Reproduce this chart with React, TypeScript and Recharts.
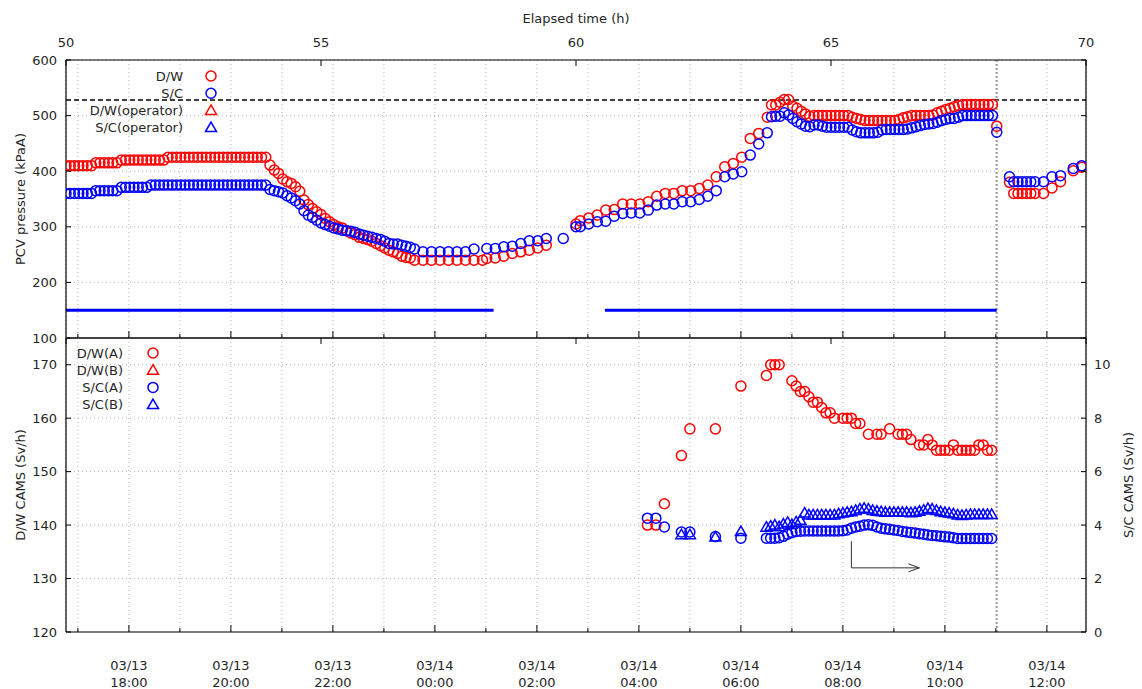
import React from 'react'
import {
  ComposedChart,
  Scatter,
  XAxis,
  YAxis,
  CartesianGrid,
  ReferenceLine,
  ReferenceDot,
  Legend,
} from 'recharts'

const _ = null

// time base: hours elapsed since the earthquake (03/11 14:46)
const QUAKE_DAY = 11
const QUAKE_CLOCK = 14 + 46 / 60

function toElapsed(stamp: string) {
  const [md, hm] = stamp.split(' ')
  const day = Number(md.split('/')[1])
  const [h, m] = hm.split(':').map(Number)
  return (day - QUAKE_DAY) * 24 + h + m / 60 - QUAKE_CLOCK
}

// axis ticks
const elapsedTicks = [50, 55, 60, 65, 70]
const clockTicks = [
  '03/13 17:00', '03/13 18:00', '03/13 19:00', '03/13 20:00', '03/13 21:00',
  '03/13 22:00', '03/13 23:00', '03/14 00:00', '03/14 01:00', '03/14 02:00',
  '03/14 03:00', '03/14 04:00', '03/14 05:00', '03/14 06:00', '03/14 07:00',
  '03/14 08:00', '03/14 09:00', '03/14 10:00', '03/14 11:00', '03/14 12:00',
]
const pressureTicks = [100, 200, 300, 400, 500, 600]
const dwCamsTicks = [120, 130, 140, 150, 160, 170]
const scCamsTicks = [0, 2, 4, 6, 8, 10]
const dwCamsDomain = [120, 175]
const scCamsDomain = [0, 11]

// PCV pressure (kPaA), one slot every 5 min starting at 50 h elapsed; one row = 1 hour
const SLOT_MIN = 5
const PRESSURE_START = 50
const dwPressure = [
  410, 410, 410, 410, 410, 410, 410, 415, 415, 415, 415, 415,
  415, 420, 420, 420, 420, 420, 420, 420, 420, 420, 420, 420,
  425, 425, 425, 425, 425, 425, 425, 425, 425, 425, 425, 425,
  425, 425, 425, 425, 425, 425, 425, 425, 425, 425, 425, 425,
  411, 402, 396, 386, 381, 378, 372, 364, 348, 340, 333, 327,
  322, 315, 309, 304, 300, 298, 293, 289, 286, 281, 279, 277,
  274, 270, 266, 262, 258, 255, 252, 247, 245, 244, 240, _,
  240, _, 240, _, 240, _, 240, _, 240, _, 240, _,
  240, _, 240, 243, _, 244, _, 247, _, 252, _, 255,
  _, 258, _, 262, _, 267, _, _, _, _, _, _,
  305, 311, _, 316, _, 321, _, 330, _, 331, _, 341,
  _, 341, _, 341, _, 345, _, 355, _, 360, _, 360,
  _, 365, _, 365, _, 369, _, 375, _, 390, _, 408,
  _, 414, _, 425, _, 459, _, 468, _, 497, 519, 519,
  524, 529, 529, 517, 513, 508, 503, 499, 500, 500, 500, 500,
  500, 500, 500, 500, 500, 497, 495, 493, 491, 491, 491, 491,
  491, 491, 491, 491, 493, 496, 498, 500, 500, 500, 500, 500,
  501, 505, 508, 511, 513, 516, 518, 520, 520, 520, 520, 520,
  520, 520, 520, 481, _, _, 380, 360, 360, 360, 360, 360,
  360, _, 360, _, 370, _, 381, _, _, 401, _, 407,
]
const scPressure = [
  360, 360, 360, 360, 360, 360, 360, 365, 365, 365, 365, 365,
  365, 371, 371, 371, 371, 371, 371, 371, 375, 375, 375, 375,
  375, 375, 375, 375, 375, 375, 375, 375, 375, 375, 375, 375,
  375, 375, 375, 375, 375, 375, 375, 375, 375, 375, 375, 375,
  367, 365, 363, 361, 356, 352, 347, 341, 329, 321, 317, 312,
  307, 304, 301, 298, 296, 294, 293, 292, 290, 287, 285, 283,
  281, 279, 277, 274, 270, 269, 269, 267, 265, 263, 260, _,
  255, _, 255, _, 255, _, 255, _, 255, _, 255, _,
  260, _, _, 261, _, 261, _, 264, _, 265, _, 270,
  _, 275, _, 275, _, 279, _, _, _, 279, _, _,
  300, 300, _, 305, _, 309, _, 310, _, 319, _, 324,
  _, 325, _, 325, _, 330, _, 339, _, 341, _, 341,
  _, 345, _, 345, _, 349, _, 355, _, 365, _, 390,
  _, 395, _, 399, _, 429, _, 449, _, 469, 498, 499,
  499, 505, 501, 495, 489, 485, 481, 480, 483, 483, 481, 479,
  479, 479, 479, 479, 479, 474, 471, 469, 469, 469, 469, 470,
  474, 475, 475, 475, 475, 475, 476, 478, 480, 482, 484, 485,
  486, 488, 491, 493, 495, 495, 497, 500, 500, 500, 500, 500,
  500, 500, 500, 470, _, _, 390, 381, 381, 381, 381, 381,
  381, _, 381, _, 390, _, 392, _, _, 405, _, 410,
]
const dwOperator: (number | null)[] = []
const scOperator: (number | null)[] = []

const designPressure = 528
const scVentLevel = 150
const scVentPeriods = [
  ['03/13 16:46', '03/14 01:09'],
  ['03/14 03:20', '03/14 11:01'],
]
const explosionTime = '03/14 11:01'

// CAMS (Sv/h), one slot every 5 min from 03/14 04:10; one row = 1 hour
const CAMS_START = '03/14 04:10'
const dwCamsA = [
  140, _, 140, _, 144, _, _, _, 153, _, 158, _,
  _, _, _, _, 158, _, _, _, _, _, 166, _,
  _, _, _, _, 168, 170, 170, 170, _, _, 167, 166,
  165, 165, 164, 163, 163, 162, 161, 161, 160, _, 160, 160,
  160, 159, 159, _, 157, _, 157, 157, _, 158, _, 157,
  157, 157, 156, _, 155, 155, 156, 155, 154, 154, 154, 154,
  155, 154, 154, 154, 154, 154, 155, 155, 154, 154,
]
const dwCamsB: (number | null)[] = []
const scCamsA = [
  4.26, _, 4.26, _, 3.93, _, _, _, 3.74, _, 3.74, _,
  _, _, _, _, 3.57, _, _, _, _, _, 3.51, _,
  _, _, _, _, 3.51, 3.51, 3.51, 3.53, 3.58, 3.66, 3.72, 3.76,
  3.77, 3.78, 3.78, 3.78, 3.78, 3.78, 3.78, 3.78, 3.78, 3.78, 3.79, 3.82,
  3.88, 3.93, 3.96, 4.0, 4.01, 3.99, 3.93, 3.88, 3.86, 3.84, 3.82, 3.8,
  3.76, 3.74, 3.72, 3.7, 3.68, 3.66, 3.63, 3.61, 3.6, 3.58, 3.56, 3.55,
  3.53, 3.5, 3.5, 3.5, 3.5, 3.5, 3.5, 3.5, 3.5, 3.5,
]
const scCamsB = [
  _, _, _, _, _, _, _, _, 3.64, _, 3.64, _,
  _, _, _, _, 3.55, _, _, _, _, _, 3.76, _,
  _, _, _, _, 3.92, 3.96, 4.0, 3.94, 4.04, 4.1, 4.02, 4.12,
  4.18, 4.45, 4.38, 4.38, 4.38, 4.38, 4.38, 4.38, 4.38, 4.42, 4.45, 4.48,
  4.5, 4.55, 4.6, 4.63, 4.6, 4.55, 4.52, 4.5, 4.48, 4.48, 4.48, 4.48,
  4.48, 4.48, 4.46, 4.48, 4.52, 4.56, 4.62, 4.6, 4.55, 4.5, 4.47, 4.45,
  4.42, 4.38, 4.36, 4.38, 4.4, 4.4, 4.4, 4.4, 4.4, 4.4,
]

// arrow hinting that S/C points belong to the right-hand scale
const arrowStart = { time: '03/14 08:10', top: 3.4, bottom: 2.4 }
const arrowEnd = '03/14 09:30'

// ---- styling ----
const W = 1142
const FONT = "'DejaVu Sans', sans-serif"
const INK = '#262626'
const GRID = '#b4b4b4'
const RED = '#ff0000'
const BLUE = '#0000ff'
const AXIS_LINE = { stroke: '#000', strokeWidth: 1.2 }
const txt = { fontFamily: FONT, fontSize: 13, fill: INK }

const slotPoints = (start: number, values: (number | null)[]) =>
  values.flatMap((y, i) => (y == null ? [] : [{ x: start + (i * SLOT_MIN) / 60, y }]))

const clockTickValues = clockTicks.map(toElapsed)
const camsStart = toElapsed(CAMS_START)

const pressureSeries = [
  { name: 'D/W', color: RED, marker: 'circle', points: slotPoints(PRESSURE_START, dwPressure) },
  { name: 'S/C', color: BLUE, marker: 'circle', points: slotPoints(PRESSURE_START, scPressure) },
  { name: 'D/W(operator)', color: RED, marker: 'triangle', points: slotPoints(PRESSURE_START, dwOperator) },
  { name: 'S/C(operator)', color: BLUE, marker: 'triangle', points: slotPoints(PRESSURE_START, scOperator) },
]
const camsSeries = [
  { name: 'D/W(A)', color: RED, marker: 'circle', axis: 'dw', points: slotPoints(camsStart, dwCamsA) },
  { name: 'D/W(B)', color: RED, marker: 'triangle', axis: 'dw', points: slotPoints(camsStart, dwCamsB) },
  { name: 'S/C(A)', color: BLUE, marker: 'circle', axis: 'sc', points: slotPoints(camsStart, scCamsA) },
  { name: 'S/C(B)', color: BLUE, marker: 'triangle', axis: 'sc', points: slotPoints(camsStart, scCamsB) },
]

function Marker({ kind, cx, cy, color }: { kind: string; cx: number; cy: number; color: string }) {
  if (kind === 'triangle') {
    return (
      <path
        d={`M${cx},${cy - 5.5}L${cx + 5.5},${cy + 4}L${cx - 5.5},${cy + 4}Z`}
        fill="none"
        stroke={color}
        strokeWidth={1.5}
      />
    )
  }
  return <circle cx={cx} cy={cy} r={5} fill="none" stroke={color} strokeWidth={1.5} />
}

const markerShape = (kind: string, color: string) => (p: any) => (
  <Marker kind={kind} cx={p.cx} cy={p.cy} color={color} />
)

function LegendBlock({ items, textRight, markerX }: { items: any[]; textRight: number; markerX: number }) {
  return (
    <svg width={markerX + 10} height={items.length * 17 + 6} style={{ display: 'block', overflow: 'visible' }}>
      {items.map((it, i) => {
        const cy = 10 + i * 17.2
        return (
          <g key={it.name}>
            <text x={textRight} y={cy} textAnchor="end" dominantBaseline="central" {...txt}>
              {it.name}
            </text>
            <Marker kind={it.marker} cx={markerX} cy={cy} color={it.color} />
          </g>
        )
      })}
    </svg>
  )
}

// ---- tick renderers ----
const elapsedTick = (withLabel: boolean) => (props: any) => {
  const { x, y, payload } = props
  return (
    <g>
      <line x1={x} x2={x} y1={y} y2={y + 6} stroke="#000" />
      {withLabel && (
        <text x={x} y={y - 18} textAnchor="middle" dominantBaseline="central" {...txt}>
          {payload.value}
        </text>
      )}
    </g>
  )
}

const clockTick = (withLabel: boolean) => (props: any) => {
  const { x, y, payload } = props
  const idx = clockTickValues.findIndex((v) => Math.abs(v - payload.value) < 1e-6)
  const stamp = clockTicks[idx] || ''
  const [day, time] = stamp.split(' ')
  const major = Number((time || '0').slice(0, 2)) % 2 === 0
  return (
    <g>
      <line x1={x} x2={x} y1={y} y2={y - (major ? 7 : 4)} stroke="#000" />
      {withLabel && major && (
        <text x={x} y={y} textAnchor="middle" {...txt}>
          <tspan x={x} dy={38}>{day}</tspan>
          <tspan x={x} dy={17}>{time}</tspan>
        </text>
      )}
    </g>
  )
}

const leftTick = (props: any) => {
  const { x, y, payload } = props
  return (
    <g>
      <line x1={x} x2={x + 5} y1={y} y2={y} stroke="#000" />
      <text x={x - 9} y={y} textAnchor="end" dominantBaseline="central" {...txt}>
        {payload.value}
      </text>
    </g>
  )
}

const rightTick = (withLabel: boolean) => (props: any) => {
  const { x, y, payload } = props
  return (
    <g>
      <line x1={x} x2={x - 5} y1={y} y2={y} stroke="#000" />
      {withLabel && (
        <text x={x + 8} y={y} textAnchor="start" dominantBaseline="central" {...txt}>
          {payload.value}
        </text>
      )}
    </g>
  )
}

const sideLabel = (dx: number) => (props: any) => {
  const { viewBox, value } = props
  const cx = viewBox.x + dx
  const cy = viewBox.y + viewBox.height / 2
  return (
    <text transform={`translate(${cx},${cy}) rotate(-90)`} textAnchor="middle" dominantBaseline="central" {...txt}>
      {value}
    </text>
  )
}

const topLabel = (props: any) => {
  const { viewBox, value } = props
  return (
    <text x={viewBox.x + viewBox.width / 2} y={viewBox.y - 12} textAnchor="middle" dominantBaseline="central" {...txt}>
      {value}
    </text>
  )
}

const xDomain = [elapsedTicks[0], elapsedTicks[elapsedTicks.length - 1]]

export default function App() {
  const explosion = toElapsed(explosionTime)
  const ax = toElapsed(arrowStart.time)
  const bx = toElapsed(arrowEnd)

  return (
    <div style={{ position: 'absolute', left: 0, top: 0, width: W, height: 689, background: '#fff' }}>
      {/* PCV pressure panel */}
      <div style={{ position: 'absolute', left: 0, top: 0 }}>
        <ComposedChart width={W} height={352} margin={{ top: 30, right: 0, bottom: 0, left: 0 }}>
          <CartesianGrid xAxisId="clock" yAxisId="kpa" stroke={GRID} strokeDasharray="1 3" />
          <XAxis
            xAxisId="elapsed"
            orientation="top"
            type="number"
            dataKey="x"
            domain={xDomain}
            allowDataOverflow
            ticks={elapsedTicks}
            interval={0}
            height={30}
            tickSize={0}
            tickMargin={0}
            tickLine={false}
            axisLine={AXIS_LINE}
            tick={elapsedTick(true)}
            label={{ value: 'Elapsed time (h)', content: topLabel }}
          />
          <XAxis
            xAxisId="clock"
            orientation="bottom"
            type="number"
            dataKey="x"
            domain={xDomain}
            allowDataOverflow
            ticks={clockTickValues}
            interval={0}
            height={14}
            tickSize={0}
            tickMargin={0}
            tickLine={false}
            axisLine={AXIS_LINE}
            tick={clockTick(false)}
          />
          <YAxis
            yAxisId="kpa"
            type="number"
            dataKey="y"
            domain={[pressureTicks[0], pressureTicks[pressureTicks.length - 1]]}
            allowDataOverflow
            ticks={pressureTicks}
            interval={0}
            width={66}
            tickSize={0}
            tickMargin={0}
            tickLine={false}
            axisLine={AXIS_LINE}
            tick={leftTick}
            label={{ value: 'PCV pressure (kPaA)', content: sideLabel(20) }}
          />
          <YAxis
            yAxisId="kpaMirror"
            orientation="right"
            type="number"
            dataKey="y"
            domain={[pressureTicks[0], pressureTicks[pressureTicks.length - 1]]}
            allowDataOverflow
            ticks={pressureTicks}
            interval={0}
            width={56}
            tickSize={0}
            tickMargin={0}
            tickLine={false}
            axisLine={AXIS_LINE}
            tick={rightTick(false)}
          />
          <ReferenceLine
            xAxisId="clock"
            yAxisId="kpa"
            y={designPressure}
            stroke="#000"
            strokeWidth={1.5}
            strokeDasharray="5 3"
          />
          <ReferenceLine
            xAxisId="clock"
            yAxisId="kpa"
            x={explosion}
            stroke="#a0a0a0"
            strokeWidth={2}
            strokeDasharray="2 2"
          />
          {scVentPeriods.map(([a, b]) => (
            <ReferenceLine
              key={a}
              xAxisId="clock"
              yAxisId="kpa"
              segment={[
                { x: toElapsed(a), y: scVentLevel },
                { x: toElapsed(b), y: scVentLevel },
              ]}
              stroke={BLUE}
              strokeWidth={3}
            />
          ))}
          {pressureSeries.map((s) => (
            <Scatter
              key={s.name}
              name={s.name}
              xAxisId="clock"
              yAxisId="kpa"
              data={s.points}
              shape={markerShape(s.marker, s.color)}
              isAnimationActive={false}
            />
          ))}
          <Legend
            layout="vertical"
            align="center"
            verticalAlign="middle"
            wrapperStyle={{ left: 80, top: 66, width: 'auto' }}
            content={() => <LegendBlock items={pressureSeries} textRight={103} markerX={131} />}
          />
        </ComposedChart>
      </div>

      {/* CAMS panel */}
      <div style={{ position: 'absolute', left: 0, top: 337 }}>
        <ComposedChart width={W} height={352} margin={{ top: 0, right: 0, bottom: 0, left: 0 }}>
          <CartesianGrid xAxisId="clock" yAxisId="dw" stroke={GRID} strokeDasharray="1 3" />
          <XAxis
            xAxisId="elapsed"
            orientation="top"
            type="number"
            dataKey="x"
            domain={xDomain}
            allowDataOverflow
            ticks={elapsedTicks}
            interval={0}
            height={1}
            tickSize={0}
            tickMargin={0}
            tickLine={false}
            axisLine={AXIS_LINE}
            tick={elapsedTick(false)}
          />
          <XAxis
            xAxisId="clock"
            orientation="bottom"
            type="number"
            dataKey="x"
            domain={xDomain}
            allowDataOverflow
            ticks={clockTickValues}
            interval={0}
            height={57}
            tickSize={0}
            tickMargin={0}
            tickLine={false}
            axisLine={AXIS_LINE}
            tick={clockTick(true)}
          />
          <YAxis
            yAxisId="dw"
            type="number"
            dataKey="y"
            domain={dwCamsDomain}
            allowDataOverflow
            ticks={dwCamsTicks}
            interval={0}
            width={66}
            tickSize={0}
            tickMargin={0}
            tickLine={false}
            axisLine={AXIS_LINE}
            tick={leftTick}
            label={{ value: 'D/W CAMS (Sv/h)', content: sideLabel(20) }}
          />
          <YAxis
            yAxisId="sc"
            orientation="right"
            type="number"
            dataKey="y"
            domain={scCamsDomain}
            allowDataOverflow
            ticks={scCamsTicks}
            interval={0}
            width={56}
            tickSize={0}
            tickMargin={0}
            tickLine={false}
            axisLine={AXIS_LINE}
            tick={rightTick(true)}
            label={{ value: 'S/C CAMS (Sv/h)', content: sideLabel(42) }}
          />
          <ReferenceLine
            xAxisId="clock"
            yAxisId="dw"
            x={explosion}
            stroke="#a0a0a0"
            strokeWidth={2}
            strokeDasharray="2 2"
          />
          <ReferenceLine
            xAxisId="clock"
            yAxisId="sc"
            segment={[
              { x: ax, y: arrowStart.top },
              { x: ax, y: arrowStart.bottom },
            ]}
            stroke="#333"
            strokeWidth={1}
          />
          <ReferenceLine
            xAxisId="clock"
            yAxisId="sc"
            segment={[
              { x: ax, y: arrowStart.bottom },
              { x: bx, y: arrowStart.bottom },
            ]}
            stroke="#333"
            strokeWidth={1}
          />
          <ReferenceDot
            xAxisId="clock"
            yAxisId="sc"
            x={bx}
            y={arrowStart.bottom}
            shape={(p: any) => (
              <path d={`M${p.cx - 11},${p.cy - 4}L${p.cx},${p.cy}L${p.cx - 11},${p.cy + 4}`} fill="none" stroke="#333" />
            )}
          />
          {camsSeries.map((s) => (
            <Scatter
              key={s.name}
              name={s.name}
              xAxisId="clock"
              yAxisId={s.axis}
              data={s.points}
              shape={markerShape(s.marker, s.color)}
              isAnimationActive={false}
            />
          ))}
          <Legend
            layout="vertical"
            align="center"
            verticalAlign="middle"
            wrapperStyle={{ left: 40, top: 6, width: 'auto' }}
            content={() => <LegendBlock items={camsSeries} textRight={83} markerX={113} />}
          />
        </ComposedChart>
      </div>
    </div>
  )
}
